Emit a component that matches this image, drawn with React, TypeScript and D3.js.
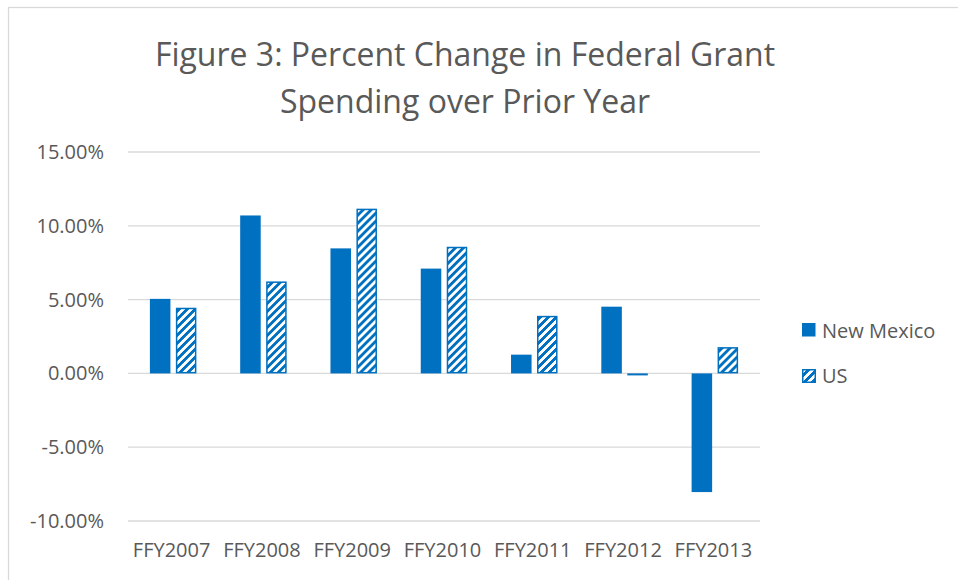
import * as d3 from 'd3';

const categories = ['FFY2007', 'FFY2008', 'FFY2009', 'FFY2010', 'FFY2011', 'FFY2012', 'FFY2013'];
const newMexico = [5.05, 10.7, 8.47, 7.1, 1.27, 4.52, -8.04];
const us = [4.45, 6.23, 11.16, 8.58, 3.9, -0.12, 1.78];
const seriesNames = ['New Mexico', 'US'];
const yTicks = [15, 10, 5, 0, -5, -10];
const titleLines = ['Figure 3: Percent Change in Federal Grant', 'Spending over Prior Year'];

const W = 958;
const H = 580;
const BLUE = '#0070C0';
const TEXT = '#595959';
const GRID = '#d9d9d9';
const FONT = '"Open Sans", sans-serif';

// plain hyphen for negatives, like the source
const fmtPct = (v: number) => v.toFixed(2) + '%';

export default function App() {
  const x = d3.scaleBand<string>()
    .domain(categories)
    .range([128, 760])
    .paddingInner(0.485)
    .paddingOuter(0.2425);
  const sub = d3.scaleBand<string>()
    .domain(seriesNames)
    .range([0, x.bandwidth()])
    .paddingInner(0.21);
  const y = d3.scaleLinear().domain([-10, 15]).range([521, 152]);

  const rows = categories.map((c, i) => ({ c, vals: [newMexico[i], us[i]] }));

  // Excel style "wide upward diagonal" pixel pattern
  const period = 8;
  const patternCells: { px: number; py: number }[] = [];
  for (let r = 0; r < period; r++) {
    for (let col = 0; col < period; col++) {
      if ((col + r) % period < period / 2) patternCells.push({ px: col, py: r });
    }
  }

  return (
    <svg width={W} height={H} style={{ position: 'absolute', left: 0, top: 0 }}>
      <defs>
        <pattern id="diag" patternUnits="userSpaceOnUse" width={period} height={period}>
          <rect width={period} height={period} fill="#fff" />
          {patternCells.map((p, i) => (
            <rect key={i} x={p.px} y={p.py} width={1} height={1} fill={BLUE} shapeRendering="crispEdges" />
          ))}
        </pattern>
      </defs>
      <rect x={0} y={0} width={W} height={H} fill="#fff" />
      <rect x={8.5} y={7.5} width={W + 20} height={H + 20} fill="none" stroke={GRID} strokeWidth={1.25} />

      {titleLines.map((t, i) => (
        <text key={t} x={465} y={66 + i * 47} textAnchor="middle" fontFamily={FONT} fontSize={32} fill={TEXT}>
          {t}
        </text>
      ))}

      {yTicks.map(t => (
        <g key={t}>
          <line x1={128} x2={760} y1={y(t)} y2={y(t)} stroke={GRID} strokeWidth={1.3} />
          <text x={104} y={y(t)} dy="0.35em" textAnchor="end" fontFamily={FONT} fontSize={20} fill={TEXT}>
            {fmtPct(t)}
          </text>
        </g>
      ))}

      {rows.map(r => (
        <g key={r.c} transform={`translate(${x(r.c)},0)`}>
          {r.vals.map((v, j) => {
            const top = Math.min(y(v), y(0));
            const h = Math.abs(y(v) - y(0));
            return j === 0 ? (
              <rect key={j} x={sub(seriesNames[j])} y={top} width={sub.bandwidth()} height={h} fill={BLUE} />
            ) : (
              <rect key={j} x={(sub(seriesNames[j]) as number) + 0.75} y={top + 0.75}
                width={sub.bandwidth() - 1.5} height={Math.max(h - 1.5, 0.5)}
                fill="url(#diag)" stroke={BLUE} strokeWidth={1.5} />
            );
          })}
        </g>
      ))}

      {categories.map(c => (
        <text key={c} x={(x(c) as number) + x.bandwidth() / 2 - 1.5} y={557} textAnchor="middle"
          fontFamily={FONT} fontSize={20} fill={TEXT}>
          {c}
        </text>
      ))}

      {/* legend */}
      <rect x={802} y={323} width={13.5} height={13.5} fill={BLUE} />
      <text x={822} y={337.5} fontFamily={FONT} fontSize={20} fill={TEXT}>{seriesNames[0]}</text>
      <rect x={802.75} y={369.75} width={12.5} height={12.5} fill="url(#diag)" stroke={BLUE} strokeWidth={1.5} />
      <text x={822} y={383} fontFamily={FONT} fontSize={20} fill={TEXT}>{seriesNames[1]}</text>
    </svg>
  );
}
